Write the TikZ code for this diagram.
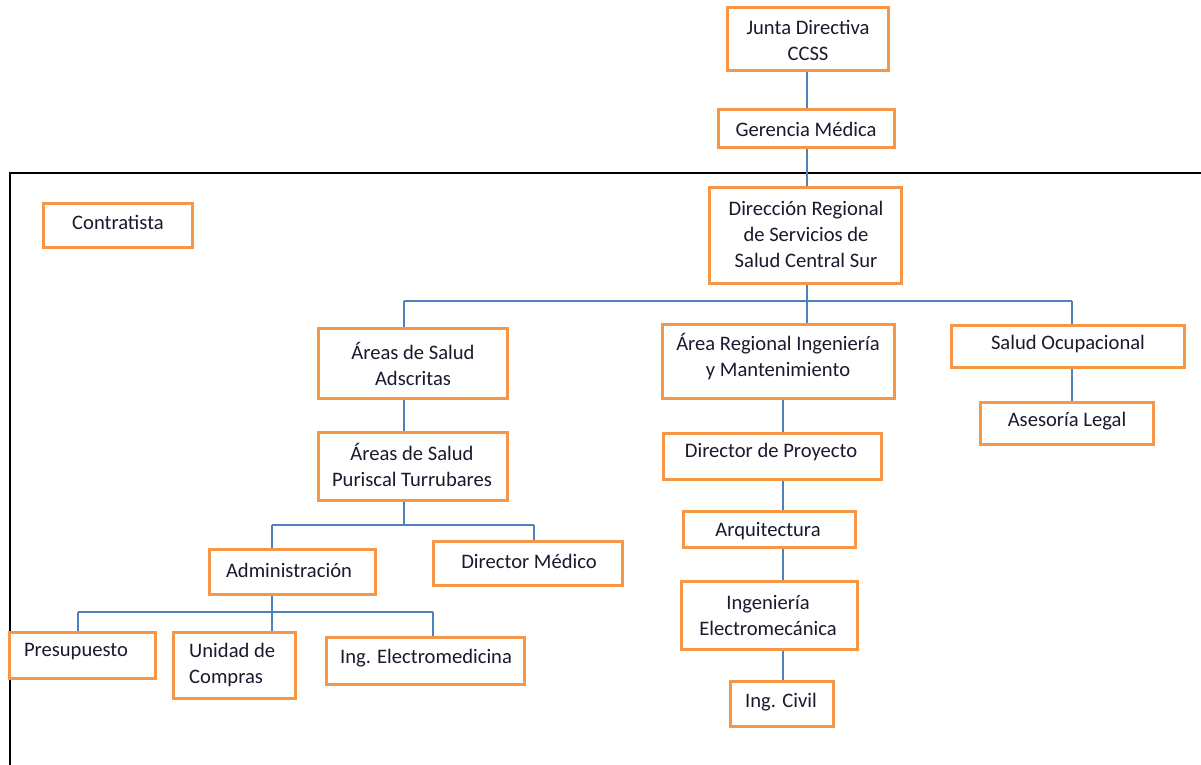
\documentclass[tikz,border=0pt]{standalone}
\usepackage{fontspec}
\setmainfont{Carlito}
\definecolor{boxorange}{HTML}{F79646}
\definecolor{linkblue}{HTML}{4F81BD}
\definecolor{txtcol}{HTML}{1A1A2E}
\tikzset{
  orgbox/.style={draw=boxorange, line width=3pt, fill=white, inner sep=0pt},
  lbl/.style={font=\fontsize{20.6}{26}\selectfont, text=txtcol, align=center, inner sep=0pt},
  link/.style={draw=linkblue, line width=1.4pt},
  frame/.style={draw=black, line width=1.5pt},
}
\begin{document}
\begin{tikzpicture}[x=1pt,y=-1pt]
\useasboundingbox (0,0) rectangle (1201,765);

% outer frame of the regional area
\coordinate (frameTL) at (10,173);
\coordinate (frameBL) at (10,765);
\coordinate (frameTR) at (1201,173);
\draw[frame] (frameBL) -- (frameTL) -- (frameTR);

% connector axes
\coordinate (axTop) at (807,0);
\coordinate (axAds) at (404,0);
\coordinate (axSal) at (1072,0);
\coordinate (axEng) at (783,0);
\coordinate (axAdm) at (272,0);
\coordinate (axMed) at (534,0);
\coordinate (axPre) at (78,0);
\coordinate (axIng) at (433,0);
\coordinate (busA) at (0,301);
\coordinate (busB) at (0,525);
\coordinate (busC) at (0,612);

% boxes
\node[orgbox, minimum width=161, minimum height=63] (junta) at (808,39) {};
\node[orgbox, minimum width=176, minimum height=38] (ger)   at (806.5,128.5) {};
\node[orgbox, minimum width=192, minimum height=96] (dir)   at (805.5,235.5) {};
\node[orgbox, minimum width=149, minimum height=44] (contr) at (118,225.5) {};
\node[orgbox, minimum width=189, minimum height=70] (ads)   at (413,363.5) {};
\node[orgbox, minimum width=232, minimum height=74] (areg)  at (778.5,361.5) {};
\node[orgbox, minimum width=233, minimum height=42] (salud) at (1068,346.5) {};
\node[orgbox, minimum width=173, minimum height=42] (ases)  at (1067,423.5) {};
\node[orgbox, minimum width=189, minimum height=68] (puri)  at (413,466.5) {};
\node[orgbox, minimum width=166, minimum height=45] (adm)   at (292.5,572) {};
\node[orgbox, minimum width=189, minimum height=44] (dmed)  at (528,563.5) {};
\node[orgbox, minimum width=146, minimum height=46] (pres)  at (82.5,655.5) {};
\node[orgbox, minimum width=122, minimum height=66] (uni)   at (234.5,665.5) {};
\node[orgbox, minimum width=198, minimum height=47] (inge)  at (425.5,661) {};
\node[orgbox, minimum width=218, minimum height=46] (dp)    at (772.5,456.5) {};
\node[orgbox, minimum width=172, minimum height=36] (arq)   at (769.5,529.5) {};
\node[orgbox, minimum width=176, minimum height=68] (emec)  at (769.5,615.5) {};
\node[orgbox, minimum width=103, minimum height=45] (civ)   at (782,704) {};

% connectors
\draw[link] (junta.south -| axTop) -- (ger.north -| axTop);
\draw[link] (ger.south -| axTop) -- (dir.north -| axTop);
\draw[link] (dir.south -| axTop) -- (areg.north -| axTop);
\draw[link] (busA -| axAds) -- (busA -| axSal);
\draw[link] (busA -| axAds) -- (ads.north -| axAds);
\draw[link] (busA -| axSal) -- (salud.north -| axSal);
\draw[link] (salud.south -| axSal) -- (ases.north -| axSal);
\draw[link] (ads.south -| axAds) -- (puri.north -| axAds);
\draw[link] (puri.south -| axAds) -- (busB -| axAds);
\draw[link] (busB -| axAdm) -- (busB -| axMed);
\draw[link] (busB -| axAdm) -- (adm.north -| axAdm);
\draw[link] (busB -| axMed) -- (dmed.north -| axMed);
\draw[link] (adm.south -| axAdm) -- (uni.north -| axAdm);
\draw[link] (busC -| axPre) -- (busC -| axIng);
\draw[link] (busC -| axPre) -- (pres.north -| axPre);
\draw[link] (busC -| axIng) -- (inge.north -| axIng);
\draw[link] (areg.south -| axEng) -- (dp.north -| axEng);
\draw[link] (dp.south -| axEng) -- (arq.north -| axEng);
\draw[link] (arq.south -| axEng) -- (emec.north -| axEng);
\draw[link] (emec.south -| axEng) -- (civ.north -| axEng);

% labels
\node[lbl] (tjunta) at (808,40.5) {Junta Directiva\\CCSS};
\node[lbl] (tger)   at (806,129) {Gerencia Médica};
\node[lbl] (tdir)   at (806,234) {Dirección Regional\\de Servicios de\\Salud Central Sur};
\node[lbl] (tcontr) at (118,222) {Contratista};
\node[lbl] (tads)   at (413,364) {Áreas de Salud\\Adscritas};
\node[lbl] (tareg)  at (778,357) {Área Regional Ingeniería\\y Mantenimiento};
\node[lbl] (tsalud) at (1068,344) {Salud Ocupacional};
\node[lbl] (tases)  at (1067,421) {Asesoría Legal};
\node[lbl] (tpuri)  at (412,465) {Áreas de Salud\\Puriscal Turrubares};
\node[lbl] (tadm)   at (289,570) {Administración};
\node[lbl] (tdmed)  at (529,561) {Director Médico};
\node[lbl] (tpres)  at (76,652) {Presupuesto};
\node[lbl, align=left, anchor=west] (tuni) at (189,665) {Unidad de\\Compras};
\node[lbl] (tinge)  at (426,658) {Ing. Electromedicina};
\node[lbl] (tdp)    at (771,452) {Director de Proyecto};
\node[lbl] (tarq)   at (768,531) {Arquitectura};
\node[lbl] (temec)  at (768,615) {Ingeniería\\Electromecánica};
\node[lbl] (tciv)   at (781,702) {Ing. Civil};
\end{tikzpicture}
\end{document}
